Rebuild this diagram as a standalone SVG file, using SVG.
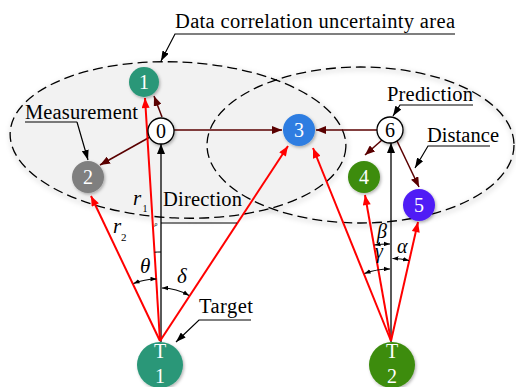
<svg xmlns="http://www.w3.org/2000/svg" width="516" height="387" viewBox="0 0 516 387">
<defs>
<style>
.area{stroke:#000;stroke-width:1.3;stroke-dasharray:10 5}
.lbl{font-family:"Liberation Serif","Times New Roman",serif;font-size:20.5px;fill:#000}
.it{font-family:"Liberation Serif","Times New Roman",serif;font-style:italic;fill:#000}
.num{font-family:"Liberation Serif","Times New Roman",serif;font-size:20px;fill:#fff;text-anchor:middle}
.numk{font-family:"Liberation Serif","Times New Roman",serif;font-size:20px;fill:#000;text-anchor:middle}
.dk{stroke:#5a0000;stroke-width:1.5;fill:none;marker-end:url(#aDk)}
.rd{stroke:#ff0000;stroke-width:2;fill:none;marker-end:url(#aRd)}
.bk{stroke:#000;stroke-width:1.3;fill:none;marker-end:url(#aBk)}
.ld{stroke:#000;stroke-width:1.2;fill:none;marker-end:url(#aLd)}
.ang{stroke:#000;stroke-width:1.1;fill:none;marker-start:url(#aAn);marker-end:url(#aAn)}
.thin{stroke:#000;stroke-width:1;fill:none}
</style>
<marker id="aDk" viewBox="0 0 10 8" refX="10" refY="4" markerWidth="10" markerHeight="8" markerUnits="userSpaceOnUse" orient="auto"><path d="M0,0 L10,4 L0,8 Z" fill="#5a0000"/></marker>
<marker id="aRd" viewBox="0 0 10 8" refX="10" refY="4" markerWidth="11" markerHeight="8" markerUnits="userSpaceOnUse" orient="auto"><path d="M0,0 L10,4 L0,8 Z" fill="#ff0000"/></marker>
<marker id="aBk" viewBox="0 0 10 8" refX="10" refY="4" markerWidth="10" markerHeight="8" markerUnits="userSpaceOnUse" orient="auto"><path d="M0,0 L10,4 L0,8 Z" fill="#000"/></marker>
<marker id="aLd" viewBox="0 0 10 7" refX="10" refY="3.5" markerWidth="10" markerHeight="7" markerUnits="userSpaceOnUse" orient="auto"><path d="M0,0 L10,3.5 L0,7 Z" fill="#000"/></marker>
<marker id="aAn" viewBox="0 0 8 6" refX="8" refY="3" markerWidth="6" markerHeight="5" markerUnits="userSpaceOnUse" orient="auto-start-reverse"><path d="M0,0 L8,3 L0,6 Z" fill="#000"/></marker>
<filter id="sh" x="-30%" y="-30%" width="160%" height="160%"><feDropShadow dx="1.2" dy="1.5" stdDeviation="1.5" flood-color="#000" flood-opacity="0.3"/></filter>
<filter id="blur" x="-10%" y="-10%" width="120%" height="120%"><feGaussianBlur stdDeviation="2.5"/></filter>
</defs>
<rect width="516" height="387" fill="#fff"/>

<g id="areas">
<ellipse cx="179" cy="142" rx="168" ry="78" fill="none" stroke="#000" stroke-opacity="0.12" stroke-width="3" transform="rotate(2.5 178 140)" filter="url(#blur)"/>
<ellipse cx="361.5" cy="147" rx="153.5" ry="78" fill="none" stroke="#000" stroke-opacity="0.12" stroke-width="3" filter="url(#blur)"/>
<ellipse id="area-left" class="area" cx="178" cy="140" rx="168" ry="78" fill="#f2f2f2" transform="rotate(2.5 178 140)"/>
<ellipse id="area-right" class="area" cx="360.5" cy="145" rx="153.5" ry="78" fill="none"/>
</g>

<g id="connectors">
<line class="dk" x1="162" y1="117" x2="154" y2="96"/>
<line class="dk" x1="150" y1="137" x2="100" y2="165"/>
<line class="dk" x1="174" y1="130" x2="282" y2="130"/>
<line class="dk" x1="377" y1="130" x2="316" y2="130"/>
<line class="dk" x1="382" y1="140" x2="365" y2="155"/>
<line class="dk" x1="397" y1="141" x2="419" y2="187"/>
<line class="bk" x1="161" y1="342" x2="161" y2="144"/>
<line class="bk" x1="391" y1="342" x2="391" y2="143"/>
<line class="rd" x1="160" y1="341" x2="145" y2="98"/>
<line class="rd" x1="160" y1="341" x2="91" y2="196"/>
<line class="rd" x1="160" y1="341" x2="288" y2="146"/>
<line class="rd" x1="391" y1="341" x2="313" y2="148"/>
<line class="rd" x1="391" y1="341" x2="365" y2="195"/>
<line class="rd" x1="391" y1="341" x2="418" y2="222"/>
<line class="thin" x1="161" y1="223" x2="237" y2="223"/>
<path class="thin" d="M154.6,252.2 A88,88 0 0,1 161,252"/>
<path class="ang" d="M133.5,283.5 A62,62 0 0,1 156.5,279"/>
<path class="ang" d="M162,288 A53,53 0 0,1 189,295.5"/>
<path class="ang" d="M374.5,245 A97,97 0 0,1 390,244"/>
<path class="ang" d="M364.5,273.5 A72,72 0 0,1 390,269"/>
<path class="ang" d="M392.5,258.5 A82,82 0 0,1 409,260.5"/>
<path class="ld" d="M455,34 L175,34 L161,61"/>
<path class="ld" d="M77,122 L25,122 M77,122 L88,160"/>
<path class="ld" d="M473,105 L400,105 L393,116"/>
<path class="ld" d="M490,146 L428,146 L415,168"/>
<path class="ld" d="M251,320 L199,320 L176,342"/>
</g>

<g id="node-0"><circle cx="161" cy="131" r="13" fill="#fff" stroke="#000" stroke-width="1.3" filter="url(#sh)"/><text class="numk" x="161" y="137.5">0</text></g>
<g id="node-1"><circle cx="144" cy="82" r="15" fill="#2a9778" filter="url(#sh)"/><text class="num" x="144" y="88.5">1</text></g>
<g id="node-2"><circle cx="88" cy="177" r="16" fill="#7f7f7f" filter="url(#sh)"/><text class="num" x="88" y="183.5">2</text></g>
<g id="node-3"><circle cx="299" cy="130" r="16" fill="#2d7de1" filter="url(#sh)"/><text class="num" x="299" y="136.5">3</text></g>
<g id="node-6"><circle cx="390" cy="130" r="13" fill="#fff" stroke="#000" stroke-width="1.3" filter="url(#sh)"/><text class="numk" x="390" y="136.5">6</text></g>
<g id="node-4"><circle cx="364" cy="177" r="16" fill="#3c8c0c" filter="url(#sh)"/><text class="num" x="364" y="183.5">4</text></g>
<g id="node-5"><circle cx="419" cy="205" r="16" fill="#501ef5" filter="url(#sh)"/><text class="num" x="419" y="211.5">5</text></g>
<g id="node-T1"><circle cx="160" cy="365" r="23" fill="#2a9778" filter="url(#sh)"/><text class="num" x="160" y="358">T</text><text class="num" x="160" y="383">1</text></g>
<g id="node-T2"><circle cx="392" cy="365" r="23" fill="#3c8c0c" filter="url(#sh)"/><text class="num" x="392" y="358">T</text><text class="num" x="392" y="383">2</text></g>

<g id="labels">
<text class="lbl" x="175" y="28" textLength="280">Data correlation uncertainty area</text>
<text class="lbl" x="25" y="119" textLength="113">Measurement</text>
<text class="lbl" x="387" y="101" textLength="86">Prediction</text>
<text class="lbl" x="427" y="142" textLength="72">Distance</text>
<text class="lbl" x="163" y="206" textLength="79">Direction</text>
<text class="lbl" x="199" y="313" textLength="54">Target</text>
<text class="it" x="133" y="205" font-size="21">r</text>
<text class="lbl" x="142.5" y="212" style="font-size:10px">1</text>
<text class="it" x="113" y="233" font-size="21">r</text>
<text class="lbl" x="121" y="241" style="font-size:11px">2</text>
<text class="it" x="154.5" y="226" font-size="6">ρ</text>
<text class="it" x="140" y="273" font-size="21">θ</text>
<text class="it" x="177" y="283" font-size="21">δ</text>
<text class="it" x="377" y="238" font-size="20">β</text>
<text class="it" x="375" y="258" font-size="20">γ</text>
<text class="it" x="397" y="253" font-size="20">α</text>
</g>
</svg>
